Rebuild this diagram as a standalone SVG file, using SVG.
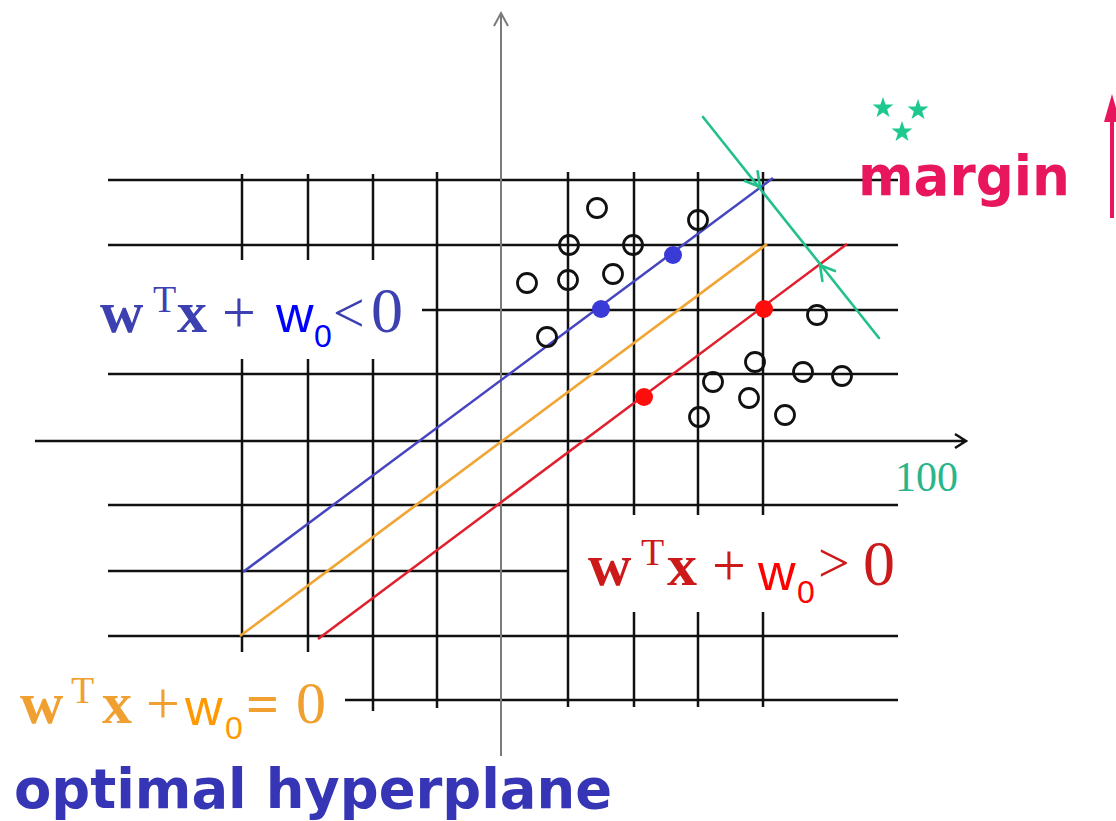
<svg xmlns="http://www.w3.org/2000/svg" width="1116" height="821" viewBox="0 0 1116 821">
<style>
.g{stroke:#111;stroke-width:2.5;fill:none}
.ax{stroke:#7a7a7a;stroke-width:2;fill:none}
.pt{stroke:#111;stroke-width:2.8;fill:none}
.m{font-family:"Liberation Serif",serif;font-size:60px}
.b{font-weight:bold}
.s{font-family:"Liberation Sans",Arial,sans-serif}
.big{font-family:"DejaVu Sans",Verdana,sans-serif;font-weight:bold;font-size:55px}
.gr{stroke:#22c08c;stroke-width:2.6;fill:none;stroke-linecap:round}
</style>
<defs>
<polygon id="star" points="0,-11 2.59,-3.56 10.46,-3.4 4.18,1.36 6.47,8.9 0,4.4 -6.47,8.9 -4.18,1.36 -10.46,-3.4 -2.59,-3.56" fill="#1ec98f"/>
</defs>
<rect width="1116" height="821" fill="#fff"/>
<g id="grid">
<path class="g" d="M108 180H898M108 245H898M422 310H898M108 374H898M108 505H898M108 571H568M108 636H898M345 700H898"/>
<path class="g" d="M242 174V260M242 359V652M308 174V260M308 359V652M373 174V260M373 359V711M437 172V708M568 172V707M634 172V515M634 612V707M698 172V515M698 612V707M763 172V515M763 612V707"/>
</g>
<g id="axes">
<path class="g" d="M35 441H966M955 434L966 441L955 448"/>
<path class="ax" d="M501 756V13M494 26L501 13L508 26"/>
</g>
<g id="connectors">
<line x1="243" y1="572" x2="773" y2="178" stroke="#4545c0" stroke-width="2.5"/>
<line x1="240" y1="636" x2="767" y2="244" stroke="#f0a535" stroke-width="2.7"/>
<line x1="318" y1="639" x2="847" y2="244" stroke="#e0202e" stroke-width="2.5"/>
<line class="gr" x1="703" y1="117" x2="879" y2="338"/>
<path class="gr" d="M745 181L760 187L757.6 171.2M835 271L820 265L822.4 281"/>
<path d="M1112 218V110" stroke="#e8175d" stroke-width="4"/>
<polygon points="1104,122 1112,94 1120,122" fill="#e8175d"/>
</g>
<g id="class-neg">
<circle class="pt" cx="597" cy="208" r="9.5"/>
<circle class="pt" cx="698" cy="220" r="9.5"/>
<circle class="pt" cx="569" cy="245" r="9.5"/>
<circle class="pt" cx="633" cy="245" r="9.5"/>
<circle class="pt" cx="527" cy="283" r="9.5"/>
<circle class="pt" cx="568" cy="280" r="9.5"/>
<circle class="pt" cx="613" cy="274" r="9.5"/>
<circle class="pt" cx="547" cy="337" r="9.5"/>
</g>
<g id="class-pos">
<circle class="pt" cx="817" cy="315" r="9.5"/>
<circle class="pt" cx="755" cy="362" r="9.5"/>
<circle class="pt" cx="803" cy="372" r="9.5"/>
<circle class="pt" cx="842" cy="376" r="9.5"/>
<circle class="pt" cx="713" cy="382" r="9.5"/>
<circle class="pt" cx="749" cy="398" r="9.5"/>
<circle class="pt" cx="785" cy="415" r="9.5"/>
<circle class="pt" cx="699" cy="417" r="9.5"/>
</g>
<g id="support-vectors">
<circle cx="673" cy="255" r="9" fill="#3a3ad6"/>
<circle cx="601" cy="309" r="9" fill="#3a3ad6"/>
<circle cx="764" cy="309" r="9" fill="#ff0d0d"/>
<circle cx="644" cy="397" r="9" fill="#ff0d0d"/>
</g>
<g id="label-neg">
<text class="m" fill="#3c40b0"><tspan class="b" x="100" y="332">w</tspan><tspan x="153" y="312" font-size="38">T</tspan><tspan class="b" x="177" y="332">x</tspan><tspan x="222" y="332">+</tspan><tspan x="333" y="332" font-size="56">&lt;</tspan><tspan x="371" y="332" font-size="64">0</tspan></text>
<text class="s" fill="#0000ff"><tspan x="276" y="332" font-size="52">w</tspan><tspan x="314" y="347" font-size="32">0</tspan></text>
</g>
<g id="label-pos">
<text class="m" fill="#cc1a1a"><tspan class="b" x="588" y="585">w</tspan><tspan x="641" y="565" font-size="38">T</tspan><tspan class="b" x="667" y="585">x</tspan><tspan x="712" y="585">+</tspan><tspan x="818" y="582" font-size="56">&gt;</tspan><tspan x="863" y="585" font-size="64">0</tspan></text>
<text class="s" fill="#ff0000"><tspan x="758" y="590" font-size="52">w</tspan><tspan x="797" y="603" font-size="32">0</tspan></text>
</g>
<g id="label-zero">
<text class="m" fill="#f0a030"><tspan class="b" x="20" y="723">w</tspan><tspan x="71" y="703" font-size="38">T</tspan><tspan class="b" x="102" y="723">x</tspan><tspan x="146" y="723">+</tspan><tspan class="b" x="246" y="723" font-size="58">=</tspan><tspan x="296" y="723" font-size="60">0</tspan></text>
<text class="s" fill="#ff9900"><tspan x="185" y="725" font-size="52">w</tspan><tspan x="225" y="739" font-size="32">0</tspan></text>
</g>
<g id="label-hyperplane">
<text class="big" x="14" y="808" fill="#3535b5" textLength="598" lengthAdjust="spacingAndGlyphs">optimal hyperplane</text>
</g>
<g id="label-margin">
<use href="#star" x="883" y="108"/>
<use href="#star" x="918" y="110"/>
<use href="#star" x="902" y="132"/>
<text class="big" x="858" y="195" fill="#e8175d" textLength="212" lengthAdjust="spacingAndGlyphs">margin</text>
</g>
<g id="label-100">
<text x="895" y="491" font-family="Liberation Serif,serif" font-size="42" fill="#2ab58a">100</text>
</g>
</svg>
